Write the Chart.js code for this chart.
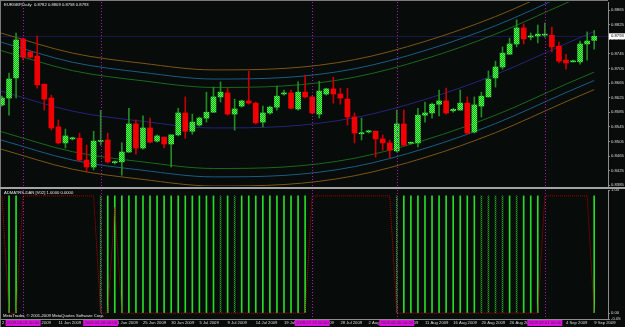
<!DOCTYPE html>
<html>
<head>
<meta charset="utf-8">
<script src="https://cdn.jsdelivr.net/npm/chart.js@4.4.0/dist/chart.umd.min.js"></script>
<style>
  html, body { margin: 0; padding: 0; background: #070b09; }
  #wrap { position: relative; width: 625px; height: 327px; overflow: hidden; background: #070b09; }
  canvas { position: absolute; left: 0; }
  #priceChart { top: 0; }
  #sep { position: absolute; left: 0; top: 187px; width: 625px; height: 2px; background: #a4a4a4; }
  #indChart { top: 189px; }
</style>
</head>
<body>
<div id="wrap">
  <canvas id="priceChart" width="625" height="187"></canvas>
  <div id="sep"></div>
  <canvas id="indChart" width="625" height="138"></canvas>
</div>
<script>
// EURGBP daily bars, 2 Jun 2009 .. 9 Sep 2009
const opens = [
  0.8605, 0.8624, 0.8679, 0.8786, 0.8750, 0.8739, 0.8662, 0.8624, 0.8545, 0.8501,
  0.8512, 0.8514, 0.8454, 0.8435, 0.8505, 0.8509, 0.8447, 0.8449, 0.8476, 0.8553,
  0.8487, 0.8542, 0.8506, 0.8517, 0.8498, 0.8523, 0.8583, 0.8533, 0.8550, 0.8569,
  0.8585, 0.8627, 0.8638, 0.8580, 0.8602, 0.8616, 0.8610, 0.8558, 0.8583, 0.8599,
  0.8635, 0.8638, 0.8594, 0.8640, 0.8627, 0.8580, 0.8635, 0.8649, 0.8635, 0.8621,
  0.8572, 0.8526, 0.8531, 0.8533, 0.8512, 0.8501, 0.8479, 0.8553, 0.8500, 0.8501,
  0.8577, 0.8583, 0.8607, 0.8616, 0.8589, 0.8591, 0.8610, 0.8531, 0.8602, 0.8627,
  0.8679, 0.8709, 0.8744, 0.8772, 0.8816, 0.8791, 0.8794, 0.8796, 0.8796, 0.8766,
  0.8728, 0.8723, 0.8723, 0.8772, 0.8782
];
const highs = [
  0.8629, 0.8692, 0.8802, 0.8788, 0.8753, 0.8794, 0.8662, 0.8632, 0.8564, 0.8539,
  0.8517, 0.8528, 0.8495, 0.8533, 0.8590, 0.8528, 0.8452, 0.8501, 0.8596, 0.8564,
  0.8575, 0.8569, 0.8523, 0.8517, 0.8523, 0.8596, 0.8627, 0.8580, 0.8572, 0.8640,
  0.8654, 0.8668, 0.8651, 0.8621, 0.8618, 0.8698, 0.8613, 0.8602, 0.8602, 0.8657,
  0.8646, 0.8646, 0.8668, 0.8687, 0.8629, 0.8670, 0.8651, 0.8681, 0.8651, 0.8651,
  0.8583, 0.8569, 0.8536, 0.8533, 0.8523, 0.8509, 0.8591, 0.8591, 0.8503, 0.8596,
  0.8613, 0.8610, 0.8646, 0.8651, 0.8596, 0.8646, 0.8627, 0.8627, 0.8640, 0.8698,
  0.8725, 0.8764, 0.8788, 0.8838, 0.8827, 0.8802, 0.8824, 0.8829, 0.8818, 0.8777,
  0.8744, 0.8728, 0.8780, 0.8805, 0.8809
];
const lows = [
  0.8602, 0.8577, 0.8624, 0.8728, 0.8733, 0.8651, 0.8591, 0.8536, 0.8498, 0.8487,
  0.8509, 0.8451, 0.8421, 0.8427, 0.8495, 0.8446, 0.8443, 0.8413, 0.8476, 0.8470,
  0.8484, 0.8501, 0.8503, 0.8487, 0.8435, 0.8520, 0.8514, 0.8525, 0.8547, 0.8558,
  0.8585, 0.8613, 0.8577, 0.8536, 0.8599, 0.8607, 0.8553, 0.8545, 0.8580, 0.8591,
  0.8632, 0.8594, 0.8591, 0.8624, 0.8580, 0.8569, 0.8632, 0.8610, 0.8607, 0.8550,
  0.8501, 0.8509, 0.8528, 0.8462, 0.8481, 0.8460, 0.8476, 0.8492, 0.8498, 0.8490,
  0.8558, 0.8569, 0.8575, 0.8580, 0.8585, 0.8591, 0.8525, 0.8528, 0.8572, 0.8627,
  0.8654, 0.8703, 0.8744, 0.8764, 0.8772, 0.8783, 0.8775, 0.8791, 0.8750, 0.8720,
  0.8703, 0.8723, 0.8717, 0.8728, 0.8758
];
const closes = [
  0.8624, 0.8676, 0.8783, 0.8736, 0.8736, 0.8660, 0.8621, 0.8542, 0.8501, 0.8520,
  0.8515, 0.8454, 0.8435, 0.8506, 0.8507, 0.8449, 0.8449, 0.8476, 0.8553, 0.8487,
  0.8542, 0.8503, 0.8520, 0.8498, 0.8523, 0.8583, 0.8533, 0.8558, 0.8569, 0.8585,
  0.8627, 0.8640, 0.8580, 0.8594, 0.8616, 0.8610, 0.8556, 0.8583, 0.8599, 0.8629,
  0.8638, 0.8596, 0.8640, 0.8627, 0.8583, 0.8643, 0.8649, 0.8635, 0.8624, 0.8572,
  0.8528, 0.8529, 0.8534, 0.8512, 0.8501, 0.8481, 0.8553, 0.8495, 0.8502, 0.8577,
  0.8583, 0.8607, 0.8616, 0.8583, 0.8593, 0.8610, 0.8528, 0.8605, 0.8629, 0.8676,
  0.8709, 0.8747, 0.8772, 0.8816, 0.8786, 0.8794, 0.8799, 0.8799, 0.8764, 0.8725,
  0.8720, 0.8726, 0.8772, 0.8780, 0.8793
];

// regression channel, sampled at a few bar positions
const bandIdx = [-0.14, 10, 20, 30, 40, 50, 60, 70, 80, 84];
const midLine = [0.8643, 0.8588, 0.8560, 0.8542, 0.8546, 0.8570, 0.8620, 0.8688, 0.8773, 0.8806];
const upper1  = [0.8754, 0.8699, 0.8671, 0.8653, 0.8657, 0.8681, 0.8731, 0.8799, 0.8884, 0.8917];
const lower1  = [0.8532, 0.8477, 0.8449, 0.8431, 0.8435, 0.8459, 0.8509, 0.8577, 0.8662, 0.8695];
const upper2  = [0.8777, 0.8722, 0.8694, 0.8676, 0.8680, 0.8704, 0.8754, 0.8822, 0.8907, 0.8940];
const lower2  = [0.8509, 0.8454, 0.8426, 0.8408, 0.8412, 0.8436, 0.8486, 0.8554, 0.8639, 0.8672];
const upper3  = [0.8802, 0.8747, 0.8719, 0.8701, 0.8705, 0.8729, 0.8779, 0.8847, 0.8932, 0.8965];
const lower3  = [0.8484, 0.8429, 0.8401, 0.8383, 0.8387, 0.8411, 0.8461, 0.8529, 0.8614, 0.8647];

const priceTicks = [0.8865, 0.8825, 0.8785, 0.8745, 0.8705, 0.8665, 0.8625, 0.8585, 0.8545, 0.8505, 0.8465, 0.8425, 0.8385];

// indicator window
const trendLine = [
  1, 0, 0, 1, 1, 1, 1, 1, 1, 1,
  1, 1, 1, 1, 0, 0, 0.9, 0, 0, 0,
  0, 0, 0, 0, 0, 0, 0, 0, 0, 0,
  0, 0, 0, 0, 0, 0, 0, 0, 0, 0,
  0, 0, 0, 0, 1, 1, 1, 1, 1, 1,
  1, 1, 1, 1, 1, 1, 0, 0, 0, 0,
  0, 0, 0, 0, 0, 0, 0, 0, 0, 0,
  0, 0, 0, 0, 0, 0, 0, 1, 1, 1,
  1, 1, 1, 1, 0
];
const upBars = [1, 2, 15, 16, 17, 18, 19, 20, 21, 22, 23, 24, 25, 26, 27, 28, 29, 30, 32, 34, 35, 36, 37, 38, 39, 40, 41, 42, 43,
  57, 58, 59, 60, 61, 62, 63, 64, 65, 66, 67, 72, 74, 75, 76, 84];
const upBarsDim = [14, 31, 33, 56, 68, 69, 70, 71, 73];
const indTicks = [1.05, 0.00, -0.05];

// vertical line objects and their time-axis tags
const signalIdx = [3, 14, 44, 56, 77];
const signalLabels = ['2009.06.05 00:00', '2009.06.18 00:00', '2009.07.23 00:00', '2009.08.06 00:00', '2009.09.01 00:00'];

const timeIdx = [0, 4, 8, 12, 16, 20, 24, 28, 32, 36, 40, 44, 48, 52, 56, 60, 64, 68, 72, 76, 80, 84];
const timeLabels = ['2 Jun 2009', '7 Jun 2009', '11 Jun 2009', '16 Jun 2009', '21 Jun 2009', '25 Jun 2009',
  '30 Jun 2009', '5 Jul 2009', '9 Jul 2009', '14 Jul 2009', '19 Jul 2009', '23 Jul 2009', '28 Jul 2009',
  '2 Aug 2009', '6 Aug 2009', '11 Aug 2009', '16 Aug 2009', '20 Aug 2009', '26 Aug 2009', '31 Aug 2009',
  '4 Sep 2009', '9 Sep 2009'];

const X_MIN = -0.14, X_MAX = 85.96;
const FONT = "'Liberation Sans', Arial, sans-serif";
const FS = 4.2;
Chart.defaults.font.family = FONT;
Chart.defaults.font.size = FS;

function checker(ctx, a, b) {
  const c = document.createElement('canvas');
  c.width = 2; c.height = 2;
  const g = c.getContext('2d');
  g.fillStyle = a; g.fillRect(0, 0, 2, 2);
  g.fillStyle = b; g.fillRect(0, 0, 1, 1); g.fillRect(1, 1, 1, 1);
  return ctx.createPattern(c, 'repeat');
}

function drawSignals(chart) {
  const { ctx, chartArea: a, scales: { x } } = chart;
  ctx.save();
  ctx.strokeStyle = '#a818a8';
  ctx.lineWidth = 1;
  ctx.setLineDash([1, 2]);
  signalIdx.forEach(i => {
    const px = Math.round(x.getPixelForValue(i)) + 0.5;
    ctx.beginPath();
    ctx.moveTo(px, a.top);
    ctx.lineTo(px, a.bottom);
    ctx.stroke();
  });
  ctx.restore();
}

const pctx = document.getElementById('priceChart').getContext('2d');
const bullFill = checker(pctx, '#1fa81f', '#4cff4c');

const last = closes.length - 1;
const bodies = closes.map((c, i) => ({ x: i, y: [Math.min(opens[i], c), Math.max(opens[i], c)] }));
const wicks = closes.map((c, i) => ({ x: i, y: [lows[i], highs[i]] }));
const isUp = closes.map((c, i) => c >= opens[i]);

const bandSpec = [
  [upper3, '#7c5716'], [upper2, '#1a5e86'], [upper1, '#1b6a1b'], [midLine, '#25257a'],
  [lower1, '#1b6a1b'], [lower2, '#1a5e86'], [lower3, '#7c5716']
];
const bandSets = bandSpec.map(([vals, col]) => ({
  type: 'line',
  data: vals.map((v, k) => ({ x: bandIdx[k], y: v })),
  borderColor: col,
  borderWidth: 1,
  pointRadius: 0,
  cubicInterpolationMode: 'monotone',
  order: 3
}));

const priceDecor = {
  id: 'priceDecor',
  beforeDatasetsDraw(chart) {
    const { ctx, chartArea: a, scales: { y } } = chart;
    const yy = Math.round(y.getPixelForValue(closes[last])) + 0.5;
    ctx.save();
    ctx.strokeStyle = '#16164a';
    ctx.lineWidth = 1;
    ctx.beginPath(); ctx.moveTo(a.left, yy); ctx.lineTo(a.right, yy); ctx.stroke();
    ctx.restore();
  },
  afterDatasetsDraw(chart) { drawSignals(chart); },
  afterDraw(chart) {
    const { ctx, chartArea: a, scales: { y } } = chart;
    ctx.save();
    ctx.fillStyle = '#7a7a7a';
    ctx.fillRect(0, 0, 1, chart.height);
    ctx.fillRect(0, 0, a.right, 1);
    ctx.font = FS + 'px ' + FONT;
    ctx.textBaseline = 'middle';
    ctx.fillStyle = '#e6e6e6';
    const title = 'EURGBP,Daily  ' + [opens[last], highs[last], lows[last], closes[last]].map(v => v.toFixed(4)).join(' ');
    ctx.fillText(title, 4, 5);
    const yy = y.getPixelForValue(closes[last]);
    ctx.fillStyle = '#ffffff';
    ctx.fillRect(a.right + 1, yy - 3, 16, 6);
    ctx.fillStyle = '#000000';
    ctx.fillText(closes[last].toFixed(4), a.right + 3, yy);
    ctx.restore();
  }
};

new Chart(pctx, {
  type: 'bar',
  data: {
    datasets: [
      ...bandSets,
      { data: wicks, backgroundColor: isUp.map(u => u ? '#228c22' : '#c40000'), barThickness: 1, grouped: false, order: 2 },
      { data: bodies, backgroundColor: isUp.map(u => u ? bullFill : '#f00000'), barThickness: 5, minBarLength: 1, grouped: false, order: 1 }
    ]
  },
  options: {
    responsive: false,
    animation: false,
    events: [],
    layout: { padding: { left: 1, top: 2, right: 0, bottom: 1 } },
    plugins: { legend: { display: false }, tooltip: { enabled: false } },
    scales: {
      x: { type: 'linear', min: X_MIN, max: X_MAX, offset: false, display: false, grid: { offset: false } },
      y: {
        position: 'right', min: 0.8383, max: 0.8887,
        afterBuildTicks: s => { s.ticks = priceTicks.map(v => ({ value: v })); },
        afterFit: s => { s.width = 17; s.paddingTop = 0; s.paddingBottom = 0; },
        grid: { drawOnChartArea: false, tickLength: 2, color: '#8c8c8c' },
        border: { display: true, color: '#8c8c8c' },
        ticks: { autoSkip: false, color: '#dcdcdc', padding: 1, callback: v => v.toFixed(4) }
      }
    }
  },
  plugins: [priceDecor]
});

const ictx = document.getElementById('indChart').getContext('2d');
const dimFill = checker(ictx, '#0d3d0d', '#2aa02a');

const indDecor = {
  id: 'indDecor',
  afterDatasetsDraw(chart) { drawSignals(chart); },
  afterDraw(chart) {
    const { ctx, chartArea: a, scales: { x } } = chart;
    ctx.save();
    ctx.fillStyle = '#7a7a7a';
    ctx.fillRect(0, 0, 1, chart.height);
    ctx.font = FS + 'px ' + FONT;
    ctx.textBaseline = 'middle';
    ctx.fillStyle = '#e6e6e6';
    ctx.fillText('ADMATRS-DAN [V02] 1.0000 0.0000', 4, 4);
    ctx.fillText('MetaTrader, \u00a9 2001-2009 MetaQuotes Software Corp.', 3, 126.5);
    ctx.textAlign = 'center';
    signalIdx.forEach((i, k) => {
      const px = x.getPixelForValue(i);
      ctx.fillStyle = '#e010e0';
      ctx.fillRect(px - 17.5, a.bottom + 1, 35, 6);
      ctx.fillStyle = '#303030';
      ctx.fillText(signalLabels[k], px, a.bottom + 4);
    });
    ctx.restore();
  }
};

new Chart(ictx, {
  type: 'bar',
  data: {
    datasets: [
      { type: 'line', data: trendLine.map((v, i) => ({ x: i, y: v })), borderColor: '#b40000', borderWidth: 1,
        borderDash: [1, 1], pointRadius: 0, order: 0 },
      { data: upBars.map(i => ({ x: i, y: 1 })), backgroundColor: '#26dc26', barThickness: 1, grouped: false, order: 1 },
      { data: upBarsDim.map(i => ({ x: i, y: 1 })), backgroundColor: dimFill, barThickness: 1, grouped: false, order: 1 }
    ]
  },
  options: {
    responsive: false,
    animation: false,
    events: [],
    layout: { padding: { left: 1, top: 1, right: 0, bottom: 0 } },
    plugins: { legend: { display: false }, tooltip: { enabled: false } },
    scales: {
      x: {
        type: 'linear', position: 'bottom', min: X_MIN, max: X_MAX, offset: false,
        afterBuildTicks: s => { s.ticks = timeIdx.map(v => ({ value: v })); },
        afterFit: s => { s.height = 8; s.paddingLeft = 0; s.paddingRight = 0; },
        grid: { drawOnChartArea: false, tickLength: 1, color: '#8c8c8c', offset: false },
        border: { display: true, color: '#8c8c8c' },
        ticks: { autoSkip: false, maxRotation: 0, minRotation: 0, align: 'start', padding: 0,
          color: '#dcdcdc', callback: (v, k) => timeLabels[k] }
      },
      y: {
        position: 'right', min: -0.05, max: 1.05,
        afterBuildTicks: s => { s.ticks = indTicks.map(v => ({ value: v })); },
        afterFit: s => { s.width = 17; s.paddingTop = 0; s.paddingBottom = 0; },
        grid: { drawOnChartArea: false, tickLength: 2, color: '#8c8c8c' },
        border: { display: true, color: '#8c8c8c' },
        ticks: { autoSkip: false, color: '#dcdcdc', padding: 1, callback: v => v.toFixed(2) }
      }
    }
  },
  plugins: [indDecor]
});
</script>
</body>
</html>
